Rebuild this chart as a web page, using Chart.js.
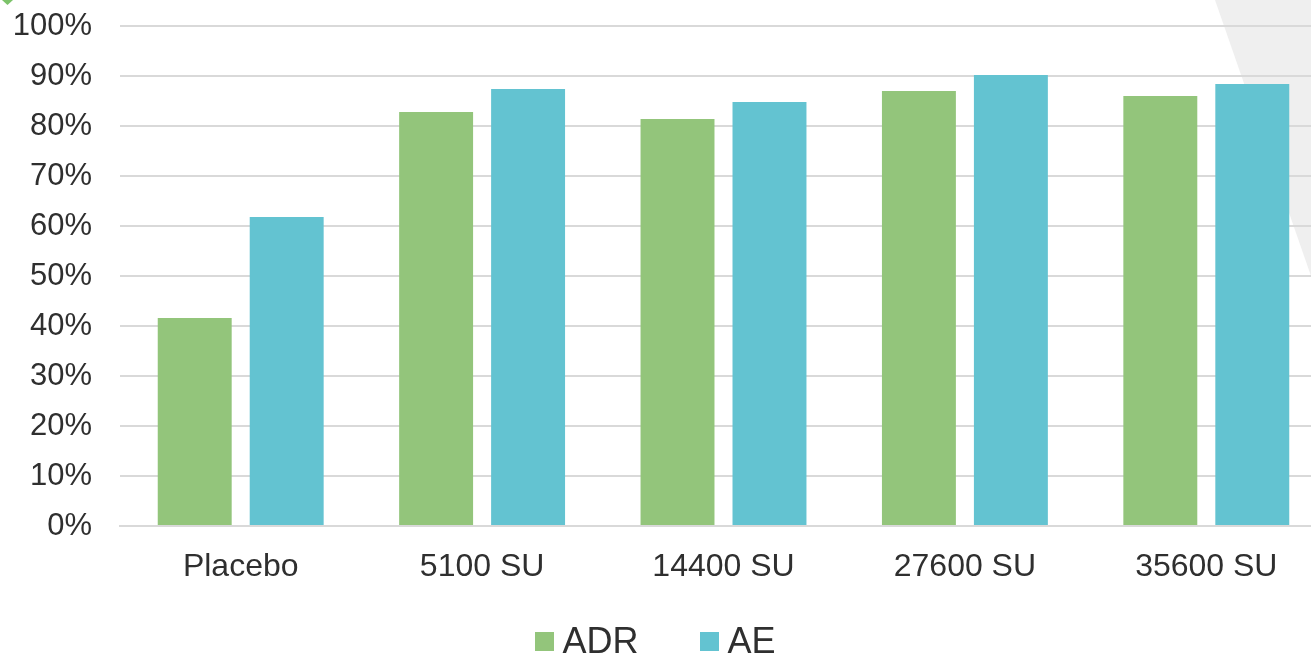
<!DOCTYPE html>
<html>
<head>
<meta charset="utf-8">
<script src="https://cdn.jsdelivr.net/npm/chart.js@4/dist/chart.umd.min.js"></script>
<style>
  html, body { margin: 0; padding: 0; background: #fff; overflow: hidden; }
  #wrap { position: relative; width: 1311px; height: 656px; overflow: hidden; }
  #chart { position: absolute; left: 0; top: 0; }
  #legend { position: absolute; left: 0; right: 0; top: 621px; display: flex; justify-content: center;
            font-family: "Liberation Sans", Arial, sans-serif; font-size: 36px; color: #2f2f2f; line-height: 40px; }
  #legend .item { display: flex; align-items: center; margin: 0 31px; }
  #legend .box { width: 19px; height: 19px; margin-right: 8px; }
</style>
</head>
<body>
<div id="wrap">
  <!-- plot runs a little past the right edge, so the canvas is wider than the frame -->
  <canvas id="chart" width="1327" height="656"></canvas>
  <div id="legend"></div>
</div>
<script>
var groups = ["Placebo", "5100 SU", "14400 SU", "27600 SU", "35600 SU"];
var adrValues = [41.6, 82.8, 81.4, 87.0, 86.0];
var aeValues = [61.8, 87.4, 84.8, 90.2, 88.4];
var seriesNames = ["ADR", "AE"];
var seriesColors = ["#93c57b", "#63c3d1"];

var fontFamily = '"Liberation Sans", Arial, sans-serif';

// light backdrop shapes behind the plot
var backdrop = {
  id: 'backdrop',
  beforeDraw: function(chart){
    var ctx = chart.ctx;
    ctx.save();
    ctx.fillStyle = '#ffffff';
    ctx.fillRect(0, 0, chart.width, chart.height);
    ctx.fillStyle = '#efefef';
    ctx.beginPath();
    ctx.moveTo(1215, 0);
    ctx.lineTo(1327, 0);
    ctx.lineTo(1327, 322);
    ctx.closePath();
    ctx.fill();
    ctx.fillStyle = '#7cc36a';
    ctx.beginPath();
    ctx.moveTo(2, 0);
    ctx.lineTo(13, 0);
    ctx.lineTo(7.5, 5);
    ctx.closePath();
    ctx.fill();
    ctx.restore();
  }
};

var ctx = document.getElementById('chart').getContext('2d');
var chart = new Chart(ctx, {
  type: 'bar',
  data: {
    labels: groups,
    datasets: [{
      label: seriesNames[0],
      data: adrValues,
      backgroundColor: seriesColors[0],
      categoryPercentage: 0.762,
      barPercentage: 0.804
    }, {
      label: seriesNames[1],
      data: aeValues,
      backgroundColor: seriesColors[1],
      categoryPercentage: 0.762,
      barPercentage: 0.804
    }]
  },
  options: {
    responsive: false,
    animation: false,
    devicePixelRatio: 1,
    layout: { padding: { left: 14, top: 26, right: 0, bottom: 74 } },
    plugins: {
      legend: { display: false },
      tooltip: { enabled: false }
    },
    scales: {
      x: {
        grid: { display: false, drawTicks: false },
        border: { display: true, color: '#d9d9d9', width: 2 },
        ticks: { color: '#2f2f2f', padding: 22, font: { family: fontFamily, size: 32 } },
        afterFit: function(scale){ scale.height = 56; }
      },
      y: {
        min: 0,
        max: 100,
        // blank tick marks keep the labels clear of the plot without padding the top
        grid: { color: '#d9d9d9', lineWidth: 2, drawTicks: true, tickLength: 28, tickColor: 'rgba(0,0,0,0)' },
        border: { display: false },
        ticks: {
          stepSize: 10,
          color: '#2f2f2f',
          padding: 0,
          font: { family: fontFamily, size: 31 },
          callback: function(v){ return v + '%'; }
        },
        afterFit: function(scale){ scale.width = 106; }
      }
    }
  },
  plugins: [backdrop]
});

var legendEl = document.getElementById('legend');
seriesNames.forEach(function(name, i){
  var item = document.createElement('div');
  item.className = 'item';
  var box = document.createElement('span');
  box.className = 'box';
  box.style.background = seriesColors[i];
  var txt = document.createElement('span');
  txt.textContent = name;
  item.appendChild(box);
  item.appendChild(txt);
  legendEl.appendChild(item);
});
</script>
</body>
</html>
